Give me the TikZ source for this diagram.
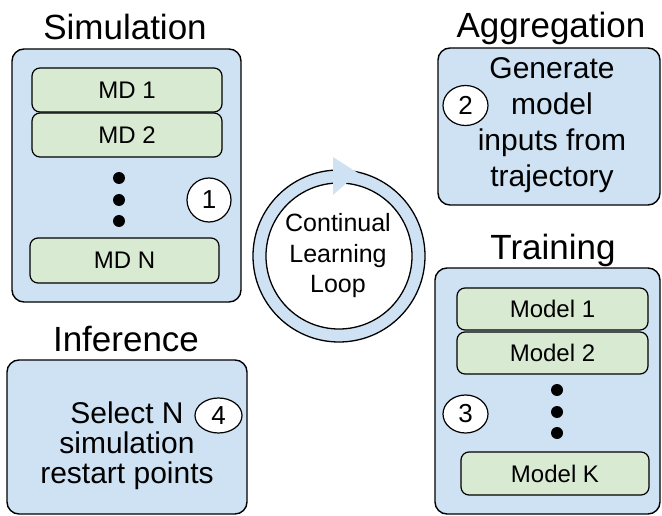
\documentclass[tikz,border=0pt]{standalone}
\usepackage{fontspec}
\setmainfont{Liberation Sans}
\usetikzlibrary{shapes.geometric}
\definecolor{boxblue}{HTML}{CFE2F3}
\definecolor{boxgreen}{HTML}{D9EAD3}
\tikzset{
  bluebox/.style={draw=black, line width=1.4pt, fill=boxblue, rounded corners=12pt, inner sep=0pt},
  greenbox/.style={draw=black, line width=1.2pt, fill=boxgreen, rounded corners=8pt, inner sep=0pt, font=\fontsize{24}{28}\selectfont},
  titletext/.style={anchor=base, inner sep=0pt, font=\fontsize{35}{42}\selectfont},
  bodytext/.style={anchor=base, inner sep=0pt, font=\fontsize{30}{36}\selectfont},
  looptext/.style={anchor=base, inner sep=0pt, font=\fontsize{25}{30}\selectfont},
  numcirc/.style={ellipse, draw=black, line width=1.2pt, fill=white, inner sep=0pt, font=\fontsize{26}{30}\selectfont},
  vdot/.style={circle, fill=black, inner sep=0pt, minimum size=12pt},
}
\begin{document}
\begin{tikzpicture}[x=1pt,y=-1pt]
\useasboundingbox (0,0) rectangle (662,516);
% Simulation
\node[titletext] (simt) at (125,40) {Simulation};
\node[bluebox, minimum width=229pt, minimum height=253pt] (sim) at (126.5,175.5) {};
\node[greenbox, minimum width=190pt, minimum height=44pt] (md1) at (127,90) {MD 1};
\node[greenbox, minimum width=190pt, minimum height=44pt] (md2) at (127,135) {MD 2};
\node[vdot] (sd1) at (119,178) {};
\node[vdot] (sd2) at (119,200) {};
\node[vdot] (sd3) at (119,221) {};
\node[greenbox, minimum width=189pt, minimum height=45pt] (mdn) at (124.5,260.5) {MD N};
\node[numcirc, minimum width=44pt, minimum height=44pt] (c1) at (209,200) {1};
% Aggregation
\node[titletext] (aggt) at (551,38) {Aggregation};
\node[bluebox, minimum width=222pt, minimum height=157pt] (agg) at (549,126.5) {};
\node[bodytext] (ag1) at (552,79) {Generate};
\node[bodytext] (ag2) at (552,115) {model};
\node[bodytext] (ag3) at (552,151) {inputs from};
\node[bodytext] (ag4) at (552,187) {trajectory};
\node[numcirc, minimum width=45pt, minimum height=40pt] (c2) at (465.5,105.5) {2};
% Training
\node[titletext] (trt) at (553,259) {Training};
\node[bluebox, minimum width=225pt, minimum height=246pt] (tr) at (547.5,391) {};
\node[greenbox, minimum width=191pt, minimum height=42pt] (m1) at (552.5,309) {Model 1};
\node[greenbox, minimum width=191pt, minimum height=42pt] (m2) at (552.5,353) {Model 2};
\node[vdot] (td1) at (557,390) {};
\node[vdot] (td2) at (557,412) {};
\node[vdot] (td3) at (557,433) {};
\node[greenbox, minimum width=188pt, minimum height=43pt] (mk) at (555,473.5) {Model K};
\node[numcirc, minimum width=45pt, minimum height=38pt] (c3) at (465.5,414) {3};
% Inference
\node[titletext] (inft) at (126,351) {Inference};
\node[bluebox, minimum width=240pt, minimum height=154pt] (inf) at (127,437) {};
\node[bodytext] (in1) at (127,423) {Select N};
\node[bodytext] (in2) at (127,453) {simulation};
\node[bodytext] (in3) at (127,483) {restart points};
\node[numcirc, minimum width=47pt, minimum height=35pt] (c4) at (218.5,415.5) {4};
% Loop
\coordinate (lc) at (339,256);
\fill[boxblue, even odd rule] (lc) circle[radius=86] (lc) circle[radius=73];
\draw[line width=1.3pt] (lc) circle[radius=86];
\draw[line width=1.3pt] (lc) circle[radius=73];
\fill[boxblue] (333,157) -- (333,195) -- (358,173) -- cycle;
\node[looptext] (l1) at (338,232) {Continual};
\node[looptext] (l2) at (338,262) {Learning};
\node[looptext] (l3) at (338,292) {Loop};
\end{tikzpicture}
\end{document}
